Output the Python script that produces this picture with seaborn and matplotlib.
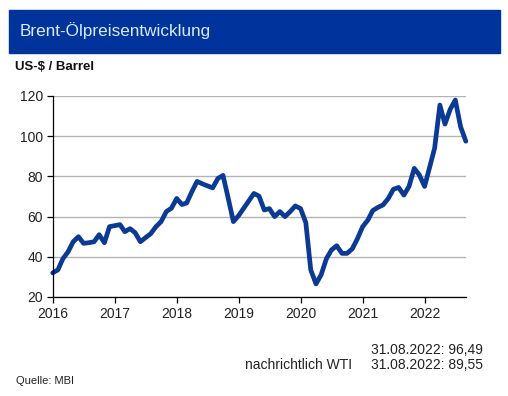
import matplotlib
matplotlib.use("Agg")
import matplotlib.pyplot as plt
import matplotlib.dates as mdates
from matplotlib.patches import Rectangle
import pandas as pd
import seaborn as sns

# monthly Brent prices (end of month), Dec 2015 .. Aug 2022
dates = pd.date_range("2015-12-31", "2022-08-31", freq="ME")
brent = [
    32.0, 33.5, 39.0, 42.5, 47.5, 50.0, 46.7, 47.0, 47.5, 51.0, 47.0, 55.0,
    55.5, 56.0, 52.5, 54.0, 52.0, 47.5, 49.5, 51.5, 55.0, 57.5, 62.5, 64.2,
    69.0, 66.0, 66.8, 72.5, 77.5, 76.3, 75.3, 74.3, 79.0, 80.5, 69.0, 57.5,
    60.5, 64.3, 67.7, 71.5, 70.2, 63.3, 64.0, 60.0, 62.5, 60.0, 62.5, 65.3,
    64.0, 57.0, 33.5, 26.5, 31.0, 39.0, 43.4, 45.5, 41.7, 41.7, 44.0, 49.0,
    55.0, 58.3, 63.0, 64.6, 65.8, 69.0, 73.6, 74.5, 70.7, 75.0, 84.0, 80.7,
    75.0, 85.0, 94.0, 115.5, 106.0, 113.4, 118.0, 104.7, 97.5,
]
years = [2016, 2017, 2018, 2019, 2020, 2021, 2022]
yticks = [20, 40, 60, 80, 100, 120]

df = pd.DataFrame({"date": dates, "brent": brent})

sns.set_theme(style="white")
plt.rcParams["font.family"] = ["Liberation Sans", "DejaVu Sans"]

fig = plt.figure(figsize=(5.08, 3.96), dpi=100)
ax = fig.add_axes([0.104, 0.25, 0.813, 0.5076])

sns.lineplot(data=df, x="date", y="brent", ax=ax, color="#0a3a94", lw=3.4,
             solid_joinstyle="round", solid_capstyle="round", clip_on=False)

ax.set_ylim(20, 120)
ax.set_yticks(yticks)
ax.set_xlim(pd.Timestamp("2016-01-01"), pd.Timestamp("2022-08-31"))
ax.set_xticks([pd.Timestamp(f"{y}-01-01") for y in years])
ax.xaxis.set_major_formatter(mdates.DateFormatter("%Y"))
ax.set_xlabel("")
ax.set_ylabel("")
ax.grid(axis="y", color="#b4b4b4", lw=1)
ax.set_axisbelow(True)
for s in ["top", "right"]:
    ax.spines[s].set_visible(False)
for s in ["left", "bottom"]:
    ax.spines[s].set_color("black")
    ax.spines[s].set_linewidth(0.9)
ax.tick_params(axis="both", direction="out", length=4, width=0.9, color="black",
               labelsize=10, labelcolor="#222222", left=True, bottom=True, pad=3)

# header bar
fig.patches.append(Rectangle((9 / 508, 1 - 53 / 396), 491 / 508, 43 / 396,
                             transform=fig.transFigure, color="#00339c", zorder=0))
fig.text(20 / 508, 1 - 31 / 396, "Brent-Ölpreisentwicklung", color="#d6ecff",
         fontsize=12.3, va="center", ha="left")
fig.text(15 / 508, 1 - 67 / 396, "US-$ / Barrel", fontsize=9.5, fontweight="bold",
         va="center", ha="left", color="#111111")

fig.text(483 / 508, 1 - 350 / 396, "31.08.2022: 96,49", fontsize=10,
         ha="right", va="center", color="#222222")
fig.text(352 / 508, 1 - 365 / 396, "nachrichtlich WTI", fontsize=10,
         ha="right", va="center", color="#222222")
fig.text(483 / 508, 1 - 365 / 396, "31.08.2022: 89,55", fontsize=10,
         ha="right", va="center", color="#222222")
fig.text(16 / 508, 1 - 381 / 396, "Quelle: MBI", fontsize=8,
         ha="left", va="center", color="#222222")

fig.savefig("out.png", dpi=100)
